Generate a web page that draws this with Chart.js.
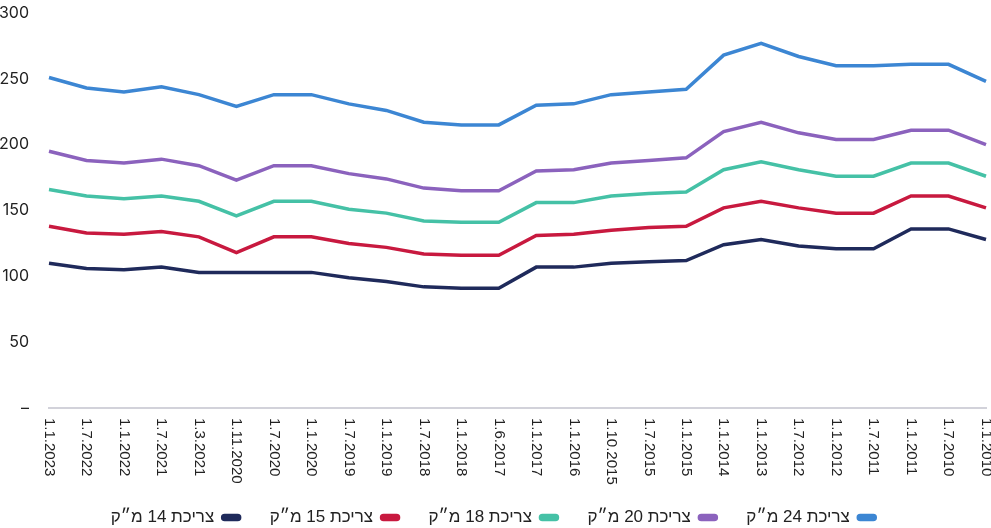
<!DOCTYPE html>
<html>
<head>
<meta charset="utf-8">
<script src="https://cdn.jsdelivr.net/npm/chart.js@4/dist/chart.umd.min.js"></script>
<style>
html,body{margin:0;padding:0;background:#fff;}
#wrap{width:991px;height:528px;position:relative;}
</style>
</head>
<body>
<div id="wrap"><canvas id="c"></canvas></div>
<script>
const categories = ["1.1.2023","1.7.2022","1.1.2022","1.7.2021","1.3.2021","1.11.2020","1.7.2020","1.1.2020","1.7.2019","1.1.2019","1.7.2018","1.1.2018","1.6.2017","1.1.2017","1.1.2016","1.10.2015","1.7.2015","1.1.2015","1.1.2014","1.1.2013","1.7.2012","1.1.2012","1.7.2011","1.1.2011","1.7.2010","1.1.2010"];
const seriesNames = ["צריכת 24 מ״ק","צריכת 20 מ״ק","צריכת 18 מ״ק","צריכת 15 מ״ק","צריכת 14 מ״ק"];
const use24 = [251,243,240,244,238,229,238,238,231,226,217,215,215,230,231,238,240,242,268,277,267,260,260,261,261,248];
const use20 = [195,188,186,189,184,173,184,184,178,174,167,165,165,180,181,186,188,190,210,217,209,204,204,211,211,200];
const use18 = [166,161,159,161,157,146,157,157,151,148,142,141,141,156,156,161,163,164,181,187,181,176,176,186,186,176];
const use15 = [138,133,132,134,130,118,130,130,125,122,117,116,116,131,132,135,137,138,152,157,152,148,148,161,161,152];
const use14 = [110,106,105,107,103,103,103,103,99,96,92,91,91,107,107,110,111,112,124,128,123,121,121,136,136,128];
const yTicks = [0,50,100,150,200,250,300];

const colors = ["#3c86d3","#8b62bd","#45c1a6","#c8193f","#1f2a5b"];
const seriesData = [use24,use20,use18,use15,use14];

const xLabelPlugin = {
  id: 'xLabels',
  afterDraw(chart) {
    const ctx = chart.ctx;
    const xs = chart.scales.x;
    ctx.save();
    ctx.font = '15px "Liberation Sans", Arial, sans-serif';
    ctx.fillStyle = '#222';
    ctx.textAlign = 'left';
    ctx.textBaseline = 'middle';
    chart.data.labels.forEach((lab, i) => {
      const x = xs.getPixelForValue(i);
      ctx.save();
      ctx.translate(x, xs.top + 10);
      ctx.rotate(Math.PI / 2);
      ctx.fillText(lab, 0, 0);
      ctx.restore();
    });
    ctx.restore();
  }
};

new Chart(document.getElementById('c'), {
  type: 'line',
  data: {
    labels: categories,
    datasets: seriesNames.map((n, i) => ({
      label: n,
      data: seriesData[i],
      borderColor: colors[i],
      backgroundColor: colors[i],
      borderWidth: 3.5,
      pointRadius: 0,
      tension: 0,
      fill: false
    }))
  },
  options: {
    responsive: true,
    maintainAspectRatio: false,
    animation: false,
    layout: { padding: { top: 13, right: 5, left: 0, bottom: -8 } },
    plugins: {
      tooltip: { enabled: false },
      legend: {
        position: 'bottom',
        rtl: true,
        textDirection: 'rtl',
        labels: {
          boxWidth: 17,
          boxHeight: 4,
          useBorderRadius: true,
          borderRadius: 2,
          padding: 30,
          color: '#222',
          font: { family: '"Liberation Sans", Arial, sans-serif', size: 17 }
        }
      }
    },
    scales: {
      x: {
        offset: false,
        grid: { display: false },
        border: { display: true, color: '#d2d2da', width: 2 },
        ticks: { display: false },
        afterFit(s) { s.height = 71; }
      },
      y: {
        min: 0, max: 300,
        afterBuildTicks(s) { s.ticks = yTicks.map(v => ({ value: v })); },
        grid: { display: false },
        border: { display: false },
        ticks: {
          padding: 12,
          color: '#222',
          font: { family: 'Inter, sans-serif', size: 16 },
          callback: v => v === 0 ? '–' : v
        },
        afterFit(s) { s.width = 49; s.paddingTop = 0; s.paddingBottom = 0; }
      }
    }
  },
  plugins: [xLabelPlugin]
});
</script>
</body>
</html>
